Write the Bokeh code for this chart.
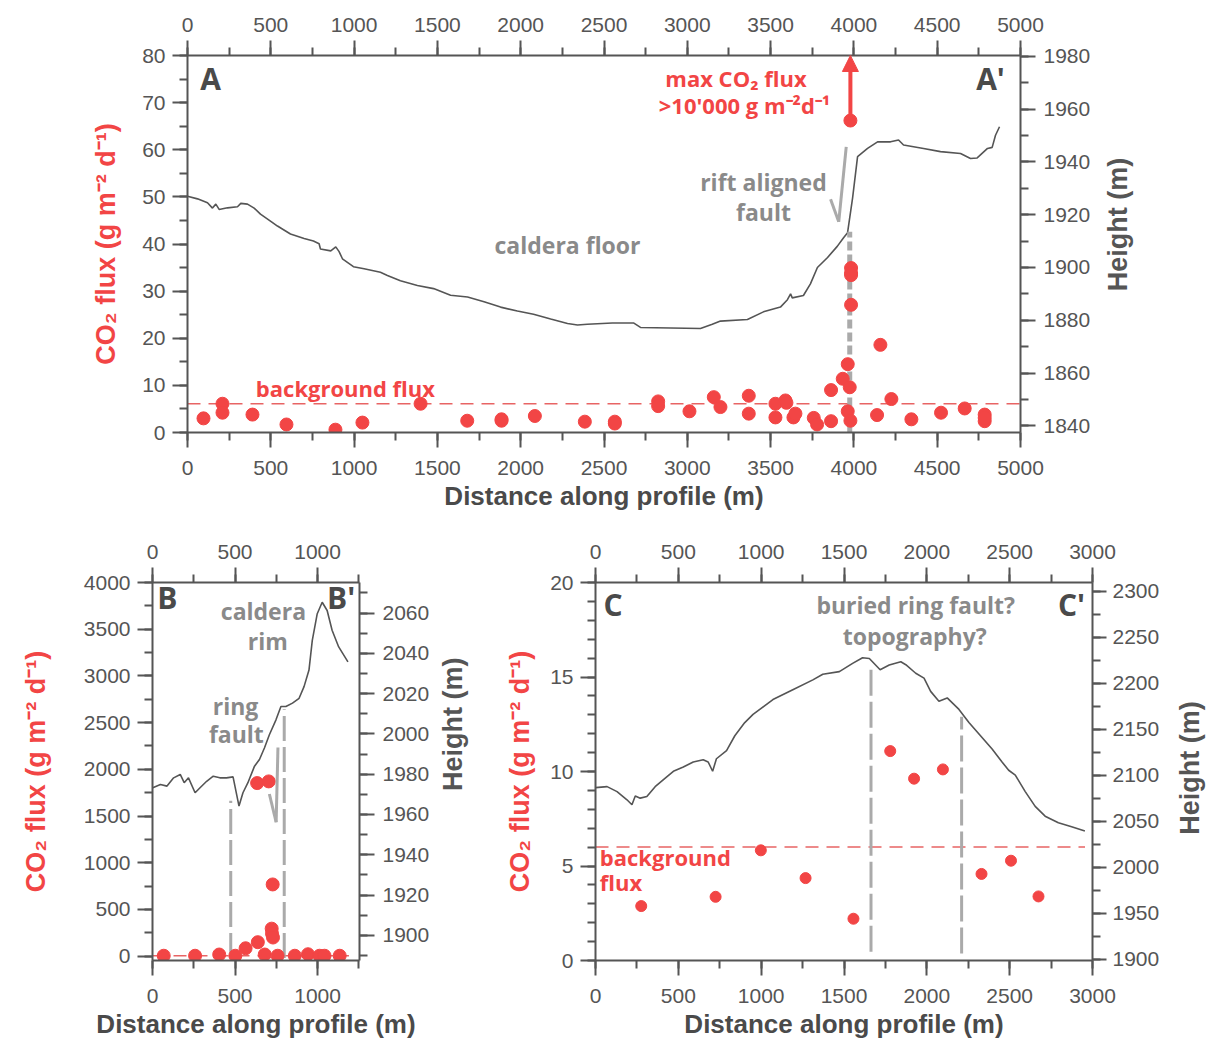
import math
from bokeh.plotting import figure
from bokeh.models import Range1d, LinearAxis, SingleIntervalTicker, Arrow, NormalHead
from bokeh.layouts import column, row
from bokeh.embed import file_html
from bokeh.resources import INLINE
from bokeh.core.properties import value

RED = "#f24545"
RED_LINE = "#e86464"
GRAY_TXT = "#8a8a8a"
DARK = "#4a4a4a"
AX = "#555555"
FAULT_GRAY = "#aaaaaa"

FLUX_LABEL = "CO\u2082 flux (g m\u207b\u00b2 d\u207b\u00b9)"
DIST_LABEL = "Distance along profile (m)"
HEIGHT_LABEL = "Height (m)"

# ---------------- Panel A data ----------------
A_flux_x = [96, 210, 210, 390, 594, 888, 1050, 1399, 1679, 1885, 1885, 2085, 2385, 2565, 2565,
            2825, 2825, 3013, 3159, 3199, 3369, 3369, 3529, 3529, 3589, 3595, 3637, 3649, 3759,
            3779, 3863, 3863, 3933, 3963, 3975, 3963, 3979, 3983, 3983, 3983, 3983, 4139, 4159,
            4225, 4345, 4523, 4665, 4785, 4785, 4785, 3979]
A_flux_y = [3.0, 6.1, 4.2, 3.8, 1.7, 0.6, 2.1, 6.1, 2.5, 2.5, 2.8, 3.5, 2.3, 2.3, 1.9,
            6.6, 5.6, 4.5, 7.5, 5.4, 7.8, 4.0, 6.1, 3.2, 6.8, 6.3, 3.2, 4.0, 3.1,
            1.7, 9.0, 2.4, 11.4, 14.5, 9.6, 4.5, 2.5, 27.1, 34.9, 33.8, 33.4, 3.7, 18.6,
            7.1, 2.8, 4.2, 5.1, 3.8, 2.4, 3.1, 66.2]
A_prof_x = [0, 60, 120, 150, 170, 190, 240, 300, 320, 360, 400, 438, 500, 540, 618, 700, 756, 790,
            798, 860, 890, 910, 930, 996, 1060, 1158, 1200, 1278, 1380, 1477, 1579, 1681, 1780,
            1879, 1980, 2077, 2180, 2281, 2341, 2400, 2550, 2677, 2719, 2900, 3079, 3150, 3199,
            3361, 3457, 3559, 3601, 3620, 3630, 3697, 3739, 3781, 3842, 3900, 3938, 3962, 3992,
            4022, 4082, 4142, 4220, 4268, 4298, 4418, 4520, 4640, 4700, 4740, 4802, 4830, 4850,
            4874]
A_prof_h = [1927, 1926, 1924.5, 1922.5, 1924, 1922, 1922.6, 1923, 1924.3, 1924, 1922.5, 1920.2,
            1917.5, 1915.7, 1912.7, 1911, 1910, 1909, 1907, 1906.3, 1907.8, 1906, 1903.3, 1900.3,
            1899.5, 1898.2, 1897, 1895, 1893.2, 1892, 1889.5, 1888.8, 1887, 1885, 1883.5, 1882.3,
            1880.5, 1878.8, 1878.2, 1878.5, 1879, 1879, 1877.3, 1877.1, 1876.9, 1878.5, 1879.7,
            1880.3, 1883.2, 1885, 1887.8, 1890, 1888.5, 1889.4, 1893.8, 1900, 1903.8, 1908, 1911.3,
            1913.2, 1926.3, 1942, 1945.1, 1947.6, 1947.6, 1948.3, 1946.4, 1945.1, 1943.9, 1943.2,
            1941.3, 1941.5, 1945.1, 1945.5, 1950.1, 1953.3]
A_background = 6.1
A_fault_x = 3975
A_fault_top = 42.6
A_max_x = 3979
A_max_y = 66.2

# ---------------- Panel B data ----------------
B_flux_x = [68, 258, 404, 502, 564, 638, 680, 722, 724, 730, 758, 862, 942, 1012, 1042, 1134,
            634, 704, 728]
B_flux_y = [5, 5, 18, 5, 85, 150, 18, 295, 242, 200, 5, 5, 21, 5, 5, 5,
            1853, 1871, 768]
B_prof_x = [2, 48, 88, 128, 168, 192, 218, 258, 288, 328, 368, 408, 448, 488, 524, 548, 578, 618,
            648, 678, 708, 748, 778, 808, 848, 888, 918, 948, 968, 998, 1028, 1058, 1088, 1128, 1184]
B_prof_h = [1973.3, 1974.9, 1974.1, 1978.2, 1979.9, 1975.8, 1978.2, 1970.8, 1973.3, 1976.5, 1979.0,
            1978.2, 1978.2, 1978.7, 1964.2, 1970.8, 1975.8, 1984.0, 1987.3, 1993.0, 1999.6, 2007.0,
            2013.6, 2013.6, 2015.3, 2017.7, 2023.5, 2031.7, 2046.5, 2059.7, 2065.4, 2061.3, 2051.5,
            2043.2, 2035.8]
B_background = 6
B_fault_x = [474, 798]
B_fault_top = [1663, 2642]

# ---------------- Panel C data ----------------
C_flux_x = [276, 725, 998, 1268, 1557, 1779, 1923, 2097, 2330, 2508, 2674]
C_flux_y = [2.88, 3.37, 5.83, 4.36, 2.21, 11.08, 9.62, 10.11, 4.58, 5.28, 3.39]
C_prof_x = [0, 70, 130, 190, 220, 240, 270, 310, 360, 430, 470, 530, 590, 650, 680, 707, 730, 791,
            841, 901, 951, 1071, 1191, 1312, 1372, 1472, 1552, 1612, 1653, 1718, 1773, 1843, 1873,
            1933, 1983, 2023, 2073, 2123, 2194, 2254, 2324, 2394, 2454, 2494, 2534, 2594, 2654,
            2714, 2794, 2874, 2954]
C_prof_h = [2086.4, 2087.5, 2082.1, 2073.2, 2067.8, 2077.4, 2075, 2076.8, 2087.5, 2098.2, 2104.2,
            2108.9, 2114.3, 2116.8, 2114.3, 2104.2, 2117.8, 2126.7, 2142.8, 2157.1, 2166.0, 2182.1,
            2192.8, 2203.5, 2209.6, 2212.5, 2221.4, 2227.5, 2226.8, 2214.5, 2219.6, 2223.2, 2220,
            2210.7, 2205.4, 2191.0, 2180.3, 2183.9, 2171.4, 2157.1, 2142.8, 2128.5, 2114.3, 2105.3,
            2100, 2082.1, 2066.1, 2055.4, 2048.2, 2043.9, 2039.3]
C_background = 6.0
C_fault_x = [1663, 2210]
C_fault_top = [15.4, 12.9]
C_fault_bottom = [0.46, 0.37]


def style_axis(ax, interval, minor, label=None, label_color=AX, label_size="26px", standoff=10,
               label_standoff=6):
    ax.ticker = SingleIntervalTicker(interval=interval, num_minor_ticks=minor)
    ax.axis_line_color = AX
    ax.axis_line_width = 2
    ax.major_tick_line_color = AX
    ax.major_tick_line_width = 2
    ax.major_tick_out = 15
    ax.major_tick_in = 0
    ax.minor_tick_line_color = AX
    ax.minor_tick_line_width = 2
    ax.minor_tick_out = 8
    ax.minor_tick_in = 0
    ax.major_label_text_font = "Liberation Sans"
    ax.major_label_text_font_size = "21px"
    ax.major_label_text_color = AX
    ax.major_label_standoff = label_standoff
    if label is not None:
        ax.axis_label = label
        ax.axis_label_text_font = "Liberation Sans"
        ax.axis_label_text_font_style = "bold"
        ax.axis_label_text_font_size = label_size
        ax.axis_label_text_color = label_color
        ax.axis_label_standoff = standoff


def make_fig(w, h, left, right, top, bottom, xr, yr, hr):
    p = figure(width=w, height=h, x_range=Range1d(*xr), y_range=Range1d(*yr),
               output_backend="svg", toolbar_location=None,
               min_border_left=left, min_border_right=right,
               min_border_top=top, min_border_bottom=bottom)
    p.extra_y_ranges = {"h": Range1d(*hr)}
    p.xgrid.visible = False
    p.ygrid.visible = False
    p.outline_line_color = None
    p.background_fill_color = "white"
    p.border_fill_color = "white"
    return p


def right_axis(p, interval, minor, tick_out=15, standoff=8):
    ax = LinearAxis(y_range_name="h")
    style_axis(ax, interval, minor, None, AX, "27px", 0, standoff)
    ax.major_tick_out = tick_out
    p.add_layout(ax, "right")
    return ax


def label_fig(w, h, cx, cy):
    # narrow strip holding the right-hand "Height (m)" title, reading bottom-to-top
    q = figure(width=w, height=h, x_range=Range1d(0, w), y_range=Range1d(0, h),
               output_backend="svg", toolbar_location=None, min_border=0)
    q.axis.visible = False
    q.xgrid.visible = False
    q.ygrid.visible = False
    q.outline_line_color = None
    q.text(x=[cx], y=[cy], text=[HEIGHT_LABEL], angle=math.pi / 2, text_align="center",
           text_baseline="middle", text_font=value("Liberation Sans"), text_font_style="bold",
           text_font_size="27px", text_color=AX)
    return q


def txt(p, x, y, s, color, size, font="Open Sans", align="center", baseline="middle"):
    p.text(x=[x], y=[y], text=[s], text_color=color, text_font=value(font),
           text_font_style="bold", text_font_size=size, text_align=align,
           text_baseline=baseline)


# ================= Panel A =================
pA = make_fig(1095, 513, 187, 75, 55, 80, (0, 5000), (0, 80), (1837.5, 1980.3))
style_axis(pA.xaxis[0], 500, 2, DIST_LABEL, DARK, "26px", 3, 13)
style_axis(pA.yaxis[0], 10, 2, FLUX_LABEL, RED, "27px", 18, 7)
topA = LinearAxis()
style_axis(topA, 500, 2, label_standoff=9)
pA.add_layout(topA, "above")
right_axis(pA, 20, 2)
lblA = label_fig(115, 513, 22, 283)

pA.line(A_prof_x, A_prof_h, y_range_name="h", line_color="#555555", line_width=1.6)
pA.line([0, 5000], [A_background, A_background], line_color=RED_LINE, line_width=1.5,
        line_dash="13 8")
pA.line([A_fault_x, A_fault_x], [0, A_fault_top], line_color=FAULT_GRAY, line_width=5,
        line_dash="9 4")
pA.scatter(A_flux_x, A_flux_y, size=13, fill_color=RED, line_color=RED)
pA.add_layout(Arrow(end=NormalHead(size=16, fill_color=RED, line_color=RED),
                    x_start=A_max_x, y_start=A_max_y, x_end=A_max_x, y_end=80,
                    line_color=RED, line_width=4))
# fault symbol
pA.line([3954, 3909], [60.6, 44.7], line_color=FAULT_GRAY, line_width=3)
pA.line([3860, 3909], [49.5, 44.7], line_color=FAULT_GRAY, line_width=3)

txt(pA, 138, 75.1, "A", DARK, "30px")
txt(pA, 4820, 75.1, "A'", DARK, "30px")
txt(pA, 3292, 75.3, "max CO\u2082 flux", RED, "22px")
txt(pA, 3343, 69.4, ">10'000 g m\u207b\u00b2d\u207b\u00b9", RED, "22px")
txt(pA, 3457, 53.1, "rift aligned", GRAY_TXT, "23px")
txt(pA, 3457, 46.8, "fault", GRAY_TXT, "23px")
txt(pA, 2281, 39.8, "caldera floor", GRAY_TXT, "23px")
txt(pA, 948, 9.5, "background flux", RED, "22px")

# ================= Panel B =================
pB = make_fig(432, 528, 152, 71, 69, 79, (0, 1254), (-46, 4000), (1887.5, 2075.2))
style_axis(pB.xaxis[0], 500, 2, DIST_LABEL, DARK, "26px", 3, 13)
style_axis(pB.yaxis[0], 500, 2, FLUX_LABEL, RED, "27px", 30, 7)
topB = LinearAxis()
style_axis(topB, 500, 2, label_standoff=9)
pB.add_layout(topB, "above")
right_axis(pB, 20, 2)
lblB = label_fig(48, 528, 20, 330)

pB.line(B_prof_x, B_prof_h, y_range_name="h", line_color="#555555", line_width=1.6)
pB.line([0, 1190], [B_background, B_background], line_color=RED_LINE, line_width=1.5,
        line_dash="13 8")
for fx, ft in zip(B_fault_x, B_fault_top):
    pB.line([fx, fx], [-20, ft], line_color=FAULT_GRAY, line_width=3, line_dash="25 6")
pB.scatter(B_flux_x, B_flux_y, size=13, fill_color=RED, line_color=RED)
pB.line([760, 749], [2234, 1434], line_color=FAULT_GRAY, line_width=3)
pB.line([708, 749], [1736, 1434], line_color=FAULT_GRAY, line_width=3)

txt(pB, 90, 3837, "B", DARK, "30px")
txt(pB, 1143, 3837, "B'", DARK, "30px")
txt(pB, 672, 3698, "caldera", GRAY_TXT, "23px")
txt(pB, 699, 3371, "rim", GRAY_TXT, "23px")
txt(pB, 503, 2677, "ring", GRAY_TXT, "23px")
txt(pB, 508, 2375, "fault", GRAY_TXT, "23px")

# ================= Panel C =================
pC = make_fig(682, 528, 115, 68, 69, 79, (0, 3000), (0, 20), (1898.6, 2309.3))
style_axis(pC.xaxis[0], 500, 2, DIST_LABEL, DARK, "26px", 3, 13)
style_axis(pC.yaxis[0], 5, 5, FLUX_LABEL, RED, "27px", 12, 7)
topC = LinearAxis()
style_axis(topC, 500, 2, label_standoff=9)
pC.add_layout(topC, "above")
right_axis(pC, 50, 2, tick_out=14, standoff=6)
lblC = label_fig(48, 528, 27, 269)

pC.line(C_prof_x, C_prof_h, y_range_name="h", line_color="#555555", line_width=1.6)
pC.line([0, 2955], [C_background, C_background], line_color=RED_LINE, line_width=1.5,
        line_dash="13 8")
for fx, ft, fb in zip(C_fault_x, C_fault_top, C_fault_bottom):
    pC.line([fx, fx], [fb, ft], line_color=FAULT_GRAY, line_width=3, line_dash="26 6")
pC.scatter(C_flux_x, C_flux_y, size=11, fill_color=RED, line_color=RED)

txt(pC, 106, 18.86, "C", DARK, "30px")
txt(pC, 2873, 18.86, "C'", DARK, "30px")
txt(pC, 1933, 18.8, "buried ring fault?", GRAY_TXT, "23px")
txt(pC, 1927, 17.18, "topography?", GRAY_TXT, "23px")
txt(pC, 26, 5.46, "background", RED, "22px", align="left")
txt(pC, 26, 4.15, "flux", RED, "22px", align="left")

layout = column(row(pA, lblA), row(pB, lblB, pC, lblC))
open("out.html", "w").write(file_html(layout, INLINE))
